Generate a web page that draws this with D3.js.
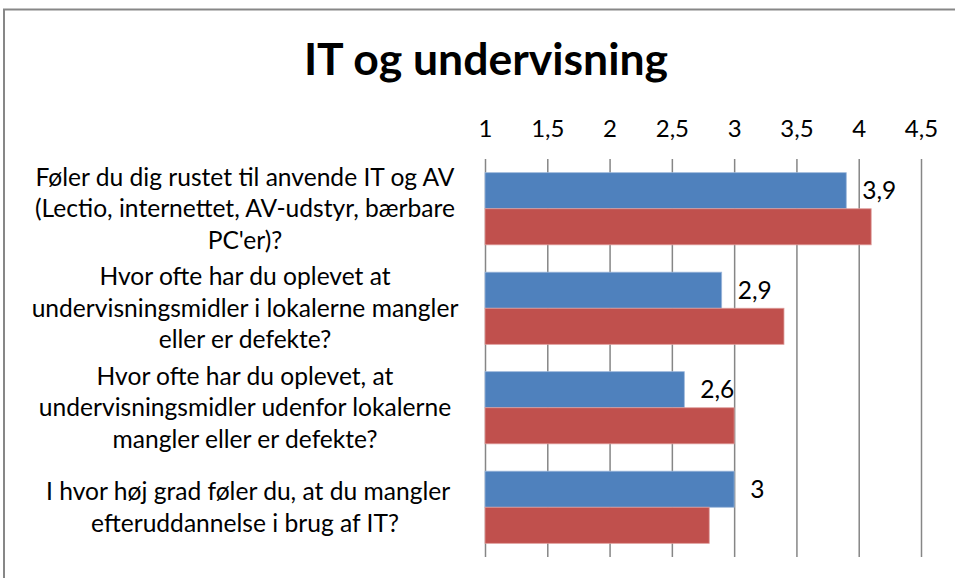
<!DOCTYPE html>
<html>
<head>
<meta charset="utf-8">
<script src="https://cdn.jsdelivr.net/npm/d3@7"></script>
<style>
  body { margin: 0; background: #fff; }
  svg { display: block; font-family: Lato, "Open Sans", sans-serif; }
</style>
</head>
<body>
<div id="chart"></div>
<script>
// categories (each split into the lines shown in the chart)
const categories = [
  ["Føler du dig rustet til anvende IT og AV", "(Lectio, internettet, AV-udstyr, bærbare", "PC'er)?"],
  ["Hvor ofte har du oplevet at", "undervisningsmidler i lokalerne mangler", "eller er defekte?"],
  ["Hvor ofte har du oplevet, at", "undervisningsmidler udenfor lokalerne", "mangler eller er defekte?"],
  [" I hvor høj grad føler du, at du mangler", "efteruddannelse i brug af IT?"]
];
const seriesBlue = [3.9, 2.9, 2.6, 3.0];
const seriesRed = [4.1, 3.4, 3.0, 2.8];
const tickValues = [1, 1.5, 2, 2.5, 3, 3.5, 4, 4.5];
const title = "IT og undervisning";

const width = 955, height = 578;
const plot = {left: 485, right: 921, top: 159, bottom: 557};

const svg = d3.select("#chart").append("svg")
  .attr("width", width)
  .attr("height", height);

// outer chart frame (cropped on right and bottom)
svg.append("rect")
  .attr("x", 4).attr("y", 9.5)
  .attr("width", width + 10).attr("height", height + 10)
  .attr("fill", "#fff")
  .attr("stroke", "#878787")
  .attr("stroke-width", 2);

const x = d3.scaleLinear().domain([1, 4.5]).range([plot.left, plot.right]);
const y = d3.scaleBand()
  .domain(d3.range(categories.length))
  .range([plot.top, plot.bottom])
  .paddingInner(0.275)
  .paddingOuter(0.1375);
const ySub = d3.scaleBand().domain([0, 1]).range([0, y.bandwidth()]);

const fmt = v => d3.format(".2~f")(v).replace(".", ",");

// gridlines + top tick labels
const axis = d3.axisTop(x)
  .tickValues(tickValues)
  .tickSize(-(plot.bottom - plot.top))
  .tickPadding(22)
  .tickFormat(fmt);

const gAxis = svg.append("g")
  .attr("transform", `translate(0,${plot.top})`)
  .call(axis);
gAxis.select(".domain").remove();
gAxis.selectAll(".tick line")
  .attr("stroke", "#868686")
  .attr("stroke-width", 1.5);
gAxis.selectAll(".tick text")
  .attr("fill", "#000")
  .style("font-size", "24px")
  .style("font-family", "Lato, sans-serif");

// bars
const series = [
  {values: seriesBlue, color: "#4f81bd", edge: "#9cb7db"},
  {values: seriesRed, color: "#c0504d", edge: "#de9c9a"}
];

series.forEach((s, si) => {
  svg.append("g").selectAll("rect")
    .data(s.values)
    .join("rect")
    .attr("x", x(1))
    .attr("y", (d, i) => y(i) + ySub(si))
    .attr("width", d => x(d) - x(1))
    .attr("height", ySub.bandwidth())
    .attr("fill", s.color)
    .attr("stroke", s.edge)
    .attr("stroke-width", 0.8);
});

// data labels on the first series only
svg.append("g").selectAll("text")
  .data(seriesBlue)
  .join("text")
  .attr("x", d => x(d) + 16)
  .attr("y", (d, i) => y(i) + ySub(0) + ySub.bandwidth() / 2)
  .attr("dy", "0.35em")
  .style("font-size", "24.5px")
  .text(d => fmt(d));

// category labels
const catSize = 24.6;
const lineH = 31.5;
const catG = svg.append("g").selectAll("text")
  .data(categories)
  .join("text")
  .attr("text-anchor", "middle")
  .style("font-size", catSize + "px")
  .style("white-space", "pre")
  .attr("y", (d, i) => y(i) + y.bandwidth() / 2);

catG.selectAll("tspan")
  .data(d => d.map((t, j) => ({t, j, n: d.length})))
  .join("tspan")
  .attr("x", 245)
  .attr("dy", (d) => d.j === 0 ? ((-(d.n - 1) / 2) * lineH / catSize + 0.35) + "em" : (lineH / catSize) + "em")
  .text(d => d.t);

// title
svg.append("text")
  .attr("x", 486)
  .attr("y", 75)
  .attr("text-anchor", "middle")
  .style("font-size", "44.5px")
  .style("font-weight", "bold")
  .text(title);
</script>
</body>
</html>
